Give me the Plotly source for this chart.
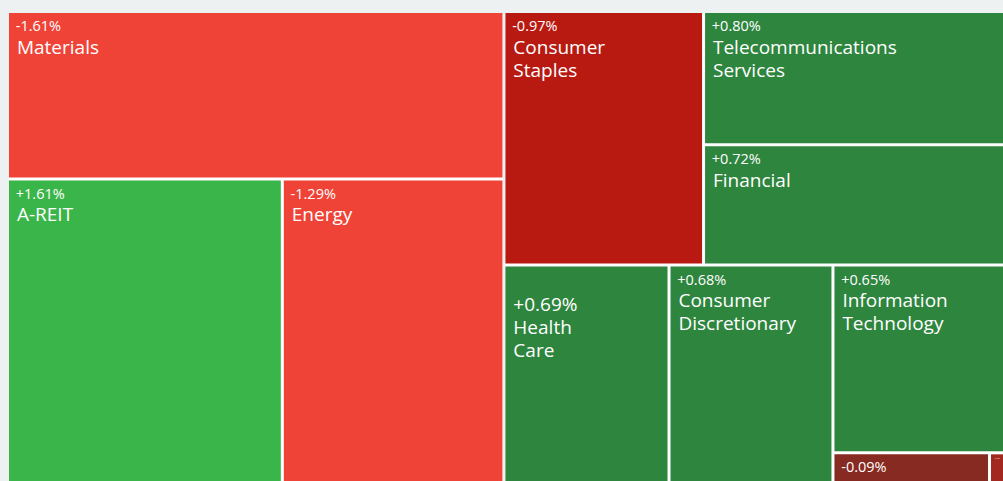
import plotly.graph_objects as go

# ---- data ----
sectors = ["Materials", "A-REIT", "Energy", "Consumer Staples",
           "Telecommunications Services", "Financial", "Health Care",
           "Consumer Discretionary", "Information Technology",
           "Industrials", "Utilities"]
display_names = ["Materials", "A-REIT", "Energy", "Consumer<br>Staples",
                 "Telecommunications<br>Services", "Financial", "Health<br>Care",
                 "Consumer<br>Discretionary", "Information<br>Technology",
                 "", ""]
changes = [-1.61, 1.61, -1.29, -0.97, 0.80, 0.72, 0.69, 0.68, 0.65, -0.09, -0.40]
weights = [82400, 82600, 66600, 50150, 39750, 35850, 35550, 35300, 31900, 4600, 440]
colors = ["#f04338", "#3ab54a", "#f04338", "#b81a12", "#2e853e", "#2e853e",
          "#2e853e", "#2e853e", "#2e853e", "#862a22", "#a3281f"]

# grouping used to reproduce the tile arrangement (two top-level blocks)
tree = [
    ("L", ["Materials", ("LB", ["A-REIT", "Energy"])]),
    ("R", [
        ("RT", ["Consumer Staples",
                ("RTR", ["Telecommunications Services", "Financial"])]),
        ("RB", ["Health Care", "Consumer Discretionary",
                ("RBR", ["Information Technology",
                         ("RBRB", ["Industrials", "Utilities"])])]),
    ]),
]

NAME_PX = 19
PCT_PX = 14.5
ids, parents, values, texts, cols = [], [], [], [], []
NB = "\u00a0"


def big(s):
    return f"<span style='font-size:{NAME_PX}px'>{NB}{s}</span>"


def add(node, parent):
    if isinstance(node, tuple):
        name, kids = node
        ids.append(name); parents.append(parent); values.append(0)
        texts.append(""); cols.append("#ffffff")
        for k in kids:
            add(k, name)
    else:
        i = sectors.index(node)
        ids.append(node); parents.append(parent); values.append(weights[i])
        pct = f"{changes[i]:+.2f}%"
        lines = [big(s) for s in display_names[i].split("<br>")] if display_names[i] else []
        if node == "Health Care":
            t = "<br>".join([NB, big(pct)] + lines)
        else:
            t = "<br>".join([f"<span style='font-size:{PCT_PX}px'>{NB}{pct}</span>"] + lines)
        texts.append(t); cols.append(colors[i])


for n in tree:
    add(n, "")

fig = go.Figure(go.Treemap(
    ids=ids, labels=ids, parents=parents, values=values,
    branchvalues="remainder", sort=False,
    text=texts, textinfo="text", textposition="top left",
    textfont=dict(family="Open Sans, Arial, sans-serif", size=17.5, color="#ffffff"),
    marker=dict(colors=cols, line=dict(width=0, color="#ffffff"),
                pad=dict(t=0, l=0, r=0, b=0)),
    tiling=dict(packing="slice-dice", pad=3),
    pathbar=dict(visible=False),
    hoverinfo="skip",
))

fig.update_layout(
    width=1003, height=481,
    margin=dict(l=9, t=13, r=0, b=0),
    paper_bgcolor="#eef1f1",
    showlegend=False,
)

fig.write_html(
    "out.html",
    config={"displayModeBar": False},
    post_script="document.body.style.margin='0';document.body.style.background='#eef1f1';",
)
